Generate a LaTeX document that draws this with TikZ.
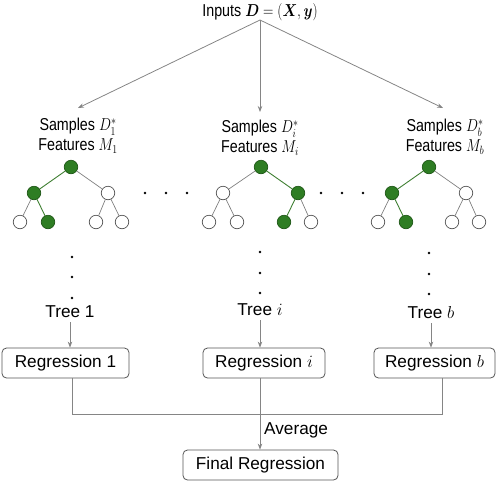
\documentclass[tikz,border=0pt]{standalone}
\usepackage{amsmath}
\usepackage{fontspec}
\setmainfont{Liberation Sans}
\usetikzlibrary{arrows.meta}
\definecolor{lgray}{HTML}{858585}
\definecolor{dgray}{HTML}{555555}
\definecolor{tgreen}{HTML}{2E7D23}
\definecolor{egreen}{HTML}{3F7F32}
\newcommand{\nx}[1]{\scalebox{0.83}[1]{#1}}
\begin{document}
\begin{tikzpicture}[x=1pt,y=-1pt,
  every node/.style={font=\fontsize{17.2}{20}\selectfont, inner sep=0pt},
  conn/.style={draw=lgray, line width=0.8pt},
  arr/.style={conn, -{Stealth[length=6pt,width=4.5pt]}, shorten >=0pt},
  tnode/.style={circle, draw=dgray, line width=0.7pt, fill=white, minimum size=13.5pt},
  gnode/.style={tnode, draw=tgreen!70!black, fill=tgreen},
  tedge/.style={draw=gray, line width=0.7pt},
  gedge/.style={draw=egreen, line width=0.9pt},
  rbox/.style={draw=dgray, line width=0.8pt, rounded corners=4.5pt, minimum height=30pt},
  dotc/.style={circle, fill=black, inner sep=0pt, minimum size=2.6pt}]
\useasboundingbox (0,0) rectangle (498,483);
% top
\node (in) at (260,12) {\nx{Inputs $\boldsymbol{D}=(\boldsymbol{X},\boldsymbol{y})$}};
\coordinate (src) at (260,20);
\node (s1) at (78,136) [align=center] {\nx{Samples $D_1^*$}\\[0pt]\nx{Features $M_1$}};
\node (si) at (260,138) [align=center] {\nx{Samples $D_i^*$}\\[0pt]\nx{Features $M_i$}};
\node (sb) at (445,137) [align=center] {\nx{Samples $D_b^*$}\\[0pt]\nx{Features $M_b$}};
\coordinate (e1) at (78,108);
\coordinate (ei) at (260,112);
\coordinate (eb) at (443,108);
\draw[arr] (src) -- (e1);
\draw[arr] (src) -- (ei);
\draw[arr] (src) -- (eb);
% tree 1
\node[gnode] (a0) at (71,167) {};
\node[gnode] (a1) at (34,193) {};
\node[tnode] (a2) at (108,193) {};
\node[tnode] (a3) at (20,222) {};
\node[gnode] (a4) at (48,222) {};
\node[tnode] (a5) at (96,222) {};
\node[tnode] (a6) at (122,222) {};
\draw[gedge] (a0) -- (a1);
\draw[tedge] (a0) -- (a2);
\draw[tedge] (a1) -- (a3);
\draw[gedge] (a1) -- (a4);
\draw[tedge] (a2) -- (a5);
\draw[tedge] (a2) -- (a6);
% tree i
\node[gnode] (b0) at (261,167) {};
\node[tnode] (b1) at (223,193) {};
\node[gnode] (b2) at (298,193) {};
\node[tnode] (b3) at (209,222) {};
\node[tnode] (b4) at (237,222) {};
\node[gnode] (b5) at (284,222) {};
\node[tnode] (b6) at (311,222) {};
\draw[tedge] (b0) -- (b1);
\draw[gedge] (b0) -- (b2);
\draw[tedge] (b1) -- (b3);
\draw[tedge] (b1) -- (b4);
\draw[gedge] (b2) -- (b5);
\draw[tedge] (b2) -- (b6);
% tree b
\node[gnode] (c0) at (429,167) {};
\node[gnode] (c1) at (392,193) {};
\node[tnode] (c2) at (466,193) {};
\node[tnode] (c3) at (378,222) {};
\node[gnode] (c4) at (406,222) {};
\node[tnode] (c5) at (452,222) {};
\node[tnode] (c6) at (479,222) {};
\draw[gedge] (c0) -- (c1);
\draw[tedge] (c0) -- (c2);
\draw[tedge] (c1) -- (c3);
\draw[gedge] (c1) -- (c4);
\draw[tedge] (c2) -- (c5);
\draw[tedge] (c2) -- (c6);
% horizontal dots
\foreach \x [count=\k] in {145,166,187} \node[dotc] (hd\k) at (\x,193) {};
\foreach \x [count=\k] in {321,342,363} \node[dotc] (he\k) at (\x,193) {};
% vertical dots
\foreach \y [count=\k] in {257,277,298} \node[dotc] (va\k) at (72,\y) {};
\foreach \y [count=\k] in {252,273,293} \node[dotc] (vb\k) at (260,\y) {};
\foreach \y [count=\k] in {253,274,294} \node[dotc] (vc\k) at (429,\y) {};
% tree labels
\node (t1) at (70,312) {Tree 1};
\node (ti) at (260,310) {Tree $i$};
\node (tb) at (431,313) {Tree $b$};
% regression boxes
\node[rbox, minimum width=127pt] (r1) at (65.5,363) {Regression 1};
\node[rbox, minimum width=122pt] (ri) at (264,363) {Regression $i$};
\node[rbox, minimum width=121pt] (rb) at (434.5,363) {Regression $b$};
\node[rbox, minimum width=155pt] (fin) at (260.5,465) {Final Regression};
\draw[arr] (t1.south) ++(0,4) -- (t1 |- r1.north);
\draw[arr] (ti.south) ++(0,4) -- (ti |- ri.north);
\draw[arr] (tb.south) ++(0,4) -- (tb |- rb.north);
% averaging
\coordinate (j1) at (72,414);
\coordinate (jm) at (260,414);
\coordinate (jb) at (442,414);
\draw[conn] (r1.south -| j1) -- (j1) -- (jb) -- (rb.south -| jb);
\draw[arr] (ri.south -| jm) -- (fin.north -| jm);
\node[anchor=west] (avg) at (264,430) {Average};
\end{tikzpicture}
\end{document}
